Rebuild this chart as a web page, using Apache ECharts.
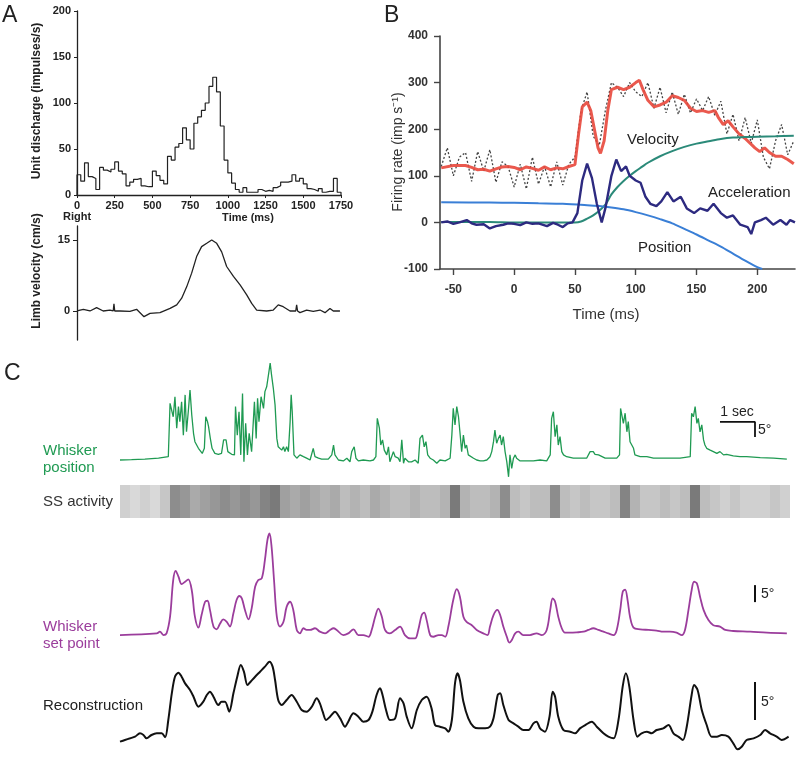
<!DOCTYPE html>
<html><head><meta charset="utf-8">
<script src="https://cdn.jsdelivr.net/npm/echarts@6/dist/echarts.min.js"></script>
<style>html,body{margin:0;padding:0;background:#fff}#c{width:800px;height:758px}</style>
</head><body><div id="c"></div>
<script>
// ---------- Panel A (top): unit discharge histogram, 25 ms bins ----------
const histStart = [0,25,50,75,100,125,150,175,200,225,250,275,300,325,350,375,400,425,450,475,500,525,550,575,600,625,650,675,700,725,750,775,800,825,850,875,900,925,950,975,1000,1025,1050,1075,1100,1125,1150,1175,1200,1225,1250,1275,1300,1325,1350,1375,1400,1425,1450,1475,1500,1525,1550,1575,1600,1625,1650,1675,1700,1725];
const histVals = [22,15,35,20,18,6,30,27,25,28, 36,26,23,10,14,17,18,10,9,9, 26,21,16,12,42,38,52,56,73,60, 50,78,85,92,100,118,128,112,75,38, 24,13,6,3,8,3,3,3,6,4, 5,4,8,10,14,14,15,22,15,18, 12,7,6,4,7,3,4,4,18,3];
const aXTicks = [0,250,500,750,1000,1250,1500,1750];
// ---------- Panel A (bottom): limb velocity ----------
const limbT = [0,42,86,130,174,218,240,245,250,285,351,395,444,484,550,617,661,694,727,760,793,826,860,893,926,959,992,1037,1081,1125,1158,1191,1257,1301,1334,1367,1412,1450,1456,1462,1478,1522,1566,1611,1644,1677,1699,1743];
const limbV = [0,0.35,0,0.7,0,0.2,0,1.5,0,0,-0.1,0.35,-1.2,-0.5,-0.35,0.55,1.3,2.7,5.1,8,11.5,13.6,14.3,15,14.3,12.5,9.4,7.3,5.5,3.4,1.6,0.2,0,0.2,1.3,0.9,0,0,1.3,0,-0.35,0.2,-0.1,0.2,-0.35,0.55,0,0];
const limbTail = [[1782,0],[1806,0]];
const limbTicks = [0,15];
// ---------- Panel B ----------
const bRedT = [-60,-50,-40,-35,-30,-25,-20,-15,-10,-5,0,5,10,15,20,25,30,35,40,45,50,53,56,60,63,66,69,71,74,77,80,85,90,95,100,103,106,110,115,120,125,130,135,140,145,150,155,160,165,168,172,176,180,185,190,194,198,202,206,210,215,220,225,230];
const bRed = [117,122,122,118,113,114,110,115,119,120,118,113,119,116,112,119,113,117,115,120,124,190,248,258,240,200,160,148,175,240,285,290,285,290,300,305,285,262,248,252,258,272,268,262,245,238,240,236,240,225,210,218,205,190,180,170,160,152,160,150,142,142,135,126];
const bRawT = [-60,-55,-50,-45,-40,-35,-30,-25,-20,-15,-10,-5,0,5,10,15,20,25,30,35,40,45,50,55,60,65,70,75,80,85,90,95,100,105,110,115,120,125,130,135,140,145,150,155,160,165,170,175,180,185,190,195,200,205,210,215,220,225,230];
const bRaw = [120,160,100,140,150,88,152,110,156,86,130,120,76,125,72,140,82,120,76,130,80,125,140,240,280,185,165,240,300,290,270,300,280,270,300,245,290,235,280,232,275,235,265,240,270,230,260,190,232,175,225,170,220,140,115,175,210,145,175];
const bVelT = [-60,-40,-20,0,20,40,50,55,60,65,70,75,80,85,90,95,100,105,110,120,130,140,150,160,170,180,190,200,215,230];
const bVel = [1,1,1,0,0,0,0,2,8,15,25,38,60,76,89,100,110,119,128,142,153,162,169,174,179,182,183,184,185,186];
const bPosT = [-60,-20,0,20,40,60,70,80,90,100,110,120,130,140,150,160,170,180,190,200,204];
const bPos = [43,42.5,42,41,40,37,35,32,28,22,15,7,-2,-14,-26,-39,-52,-67,-82,-96,-100];
const bAccT = [-60,-55,-50,-45,-39,-35,-31,-25,-20,-15,-9,-5,0,5,10,15,20,27,32,36,40,44,48,52,56,60,64,68,72,75,80,84,88,92,95,100,104,108,112,117,121,126,131,137,142,148,153,159,164,170,175,180,186,192,195,198,203,207,213,219,224,227,231];
const bAcc = [0,2,-3,0,5,-2,-5,-4,-13,-8,-5,-2,-3,-6,0,-3,-2,-8,-1,-5,-10,-2,0,20,90,126,95,40,0,30,100,135,110,120,100,90,85,55,40,35,45,65,45,55,30,20,30,25,40,20,10,15,-5,-10,-25,0,5,10,-5,5,-5,5,0];
const bXTicks = [-50,0,50,100,150,200];
// ---------- Panel C (time in s, value in degrees) ----------
const whiskerPos = [[0,-1.0],[0.33,-0.9],[0.71,-0.7],[1.10,-0.4],[1.38,0.1],[1.43,17.9],[1.48,17.9],[1.52,13.4],[1.57,20.1],[1.62,9.6],[1.67,16.8],[1.71,11.8],[1.76,18.4],[1.81,7.3],[1.86,20.7],[1.90,8.4],[1.95,15.1],[2.00,22.3],[2.05,14.0],[2.10,7.9],[2.14,5.1],[2.19,4.0],[2.24,2.9],[2.29,2.3],[2.35,1.2],[2.41,2.9],[2.45,13.4],[2.50,11.8],[2.53,10.1],[2.58,6.2],[2.63,2.9],[2.71,1.2],[2.81,0.9],[2.90,1.2],[2.96,5.7],[3.03,5.7],[3.08,1.8],[3.19,0.9],[3.27,0.7],[3.30,16.8],[3.35,7.3],[3.40,15.1],[3.45,0.7],[3.50,21.2],[3.54,-1.6],[3.59,11.2],[3.64,0.7],[3.69,7.9],[3.76,1.8],[3.84,18.4],[3.89,6.2],[3.93,19.6],[3.97,11.8],[4.03,20.1],[4.10,16.2],[4.14,21.8],[4.19,23.4],[4.24,27.3],[4.29,31.3],[4.33,27.3],[4.38,22.9],[4.43,17.3],[4.48,6.2],[4.52,3.4],[4.57,2.9],[4.62,2.3],[4.67,3.4],[4.71,1.8],[4.76,3.4],[4.81,1.8],[4.86,11.8],[4.89,20.7],[4.92,15.1],[4.97,0.7],[5.05,-0.4],[5.14,0.7],[5.24,0.1],[5.33,-0.4],[5.43,-1.0],[5.52,2.9],[5.57,0.1],[5.67,-0.4],[5.76,-0.7],[5.95,-0.7],[6.05,0.7],[6.10,4.0],[6.14,0.7],[6.24,-1.0],[6.38,-1.3],
[6.48,-0.4],[6.57,-1.6],[6.62,1.8],[6.69,3.4],[6.74,-0.4],[6.81,-1.3],[6.95,-1.0],[7.14,-1.3],[7.24,-1.0],[7.31,0.1],[7.35,12.9],[7.41,9.6],[7.45,4.0],[7.50,5.7],[7.55,2.3],[7.62,0.7],[7.67,3.4],[7.71,-1.6],[7.81,1.8],[7.86,0.1],[7.95,-0.4],[8.00,-1.6],[8.05,5.7],[8.10,-2.1],[8.14,-0.4],[8.24,-1.6],[8.33,-1.6],[8.43,-1.0],[8.52,-2.1],[8.57,6.2],[8.64,7.3],[8.69,3.4],[8.74,5.1],[8.79,0.7],[8.86,-0.4],[8.95,-1.0],[9.05,-2.1],[9.14,-1.0],[9.29,-1.3],[9.43,-0.4],[9.48,7.3],[9.52,16.2],[9.57,10.7],[9.62,16.8],[9.67,13.4],[9.71,8.4],[9.76,1.8],[9.81,7.3],[9.86,2.9],[9.90,4.0],[9.95,0.7],[10.00,1.2],[10.10,-0.4],[10.19,-1.0],[10.29,-1.3],[10.38,-1.3],[10.48,-1.0],[10.57,0.1],[10.62,1.8],[10.67,5.1],[10.71,9.0],[10.76,4.6],[10.81,6.2],[10.86,7.3],[10.90,4.0],[10.95,6.8],[11.00,1.8],[11.05,-1.6],[11.10,-6.6],[11.14,0.7],[11.19,-3.8],[11.24,-0.4],[11.29,0.7],[11.33,-0.4],[11.43,-1.3],[11.62,-1.3],[11.81,-1.3],[12.00,-1.0],[12.19,-1.3],[12.29,0.7],[12.33,12.9],[12.38,15.1],[12.43,6.8],[12.48,10.7],[12.52,4.0],[12.57,6.8],[12.62,1.8],[12.67,0.7],[12.76,0.1],
[12.95,-0.4],[13.14,-0.4],[13.33,-0.4],[13.43,1.8],[13.48,1.2],[13.52,1.8],[13.57,0.9],[13.62,1.2],[13.67,0.7],[13.71,0.1],[13.86,-0.4],[14.00,-0.4],[14.19,-0.4],[14.27,0.7],[14.30,16.2],[14.34,16.2],[14.38,11.2],[14.43,14.6],[14.48,8.4],[14.52,11.8],[14.57,5.1],[14.62,4.0],[14.67,2.9],[14.71,0.7],[14.76,1.2],[14.86,0.1],[15.05,0.1],[15.24,-0.4],[15.62,-0.4],[16.00,-0.4],[16.29,0.1],[16.33,14.6],[16.38,13.4],[16.43,16.8],[16.48,11.2],[16.52,12.9],[16.57,8.4],[16.62,10.7],[16.67,5.7],[16.71,4.0],[16.76,2.9],[16.86,2.3],[16.95,1.8],[17.05,1.2],[17.14,1.8],[17.24,0.7],[17.33,0.9],[17.52,0.4],[17.71,0.1],[17.90,0.1],[18.29,-0.2],[18.67,-0.4],[19.05,-0.7]];
// SS activity: darkness of the raster in 67 consecutive bins (0 = white, 1 = black)
const ssDarkness = [0.25,0.2,0.25,0.2,0.3,0.6,0.55,0.45,0.5,0.55, 0.6,0.55,0.6,0.55,0.65,0.7,0.5,0.45,0.5,0.45, 0.4,0.45,0.35,0.4,0.35,0.45,0.4,0.35,0.35,0.4, 0.35,0.35,0.4,0.7,0.4,0.35,0.35,0.4,0.6,0.35, 0.3,0.35,0.35,0.6,0.35,0.3,0.35,0.3,0.3,0.35, 0.65,0.4,0.3,0.3,0.35,0.3,0.35,0.7,0.35,0.3, 0.25,0.3,0.25,0.25,0.25,0.3,0.25];
const setPoint = [[0,0],[1.05,0.5],[1.14,1.0],[1.24,0],[1.33,0.5],[1.43,5.4],[1.52,16.2],[1.59,18.9],[1.67,17.2],[1.76,15.0],[1.86,15.7],[1.95,16.4],[2.05,13.2],[2.14,5.4],[2.24,2.2],[2.33,5.9],[2.43,9.8],[2.50,10.1],[2.57,7.4],[2.67,2.5],[2.76,1.7],[2.86,3.4],[2.95,4.6],[3.05,3.9],[3.14,2.5],[3.24,6.4],[3.33,10.3],[3.41,11.5],[3.48,10.8],[3.57,7.4],[3.67,4.6],[3.76,7.8],[3.86,14.2],[3.95,16.2],[4.05,16.7],[4.14,22.1],[4.21,27.9],[4.27,29.9],[4.33,26.0],[4.40,16.2],[4.48,5.4],[4.57,2.5],[4.67,3.9],[4.76,8.3],[4.86,9.8],[4.95,7.4],[5.05,1.5],[5.14,0.5],[5.24,2.0],[5.33,1.5],[5.43,1.5],[5.57,2.0],[5.71,1.0],[5.86,0.5],[6.00,1.5],[6.10,2.0],[6.19,1.5],[6.38,0],[6.52,0.5],[6.67,1.7],[6.81,0],[6.95,0],[7.10,-0.5],[7.19,1.5],[7.29,5.4],[7.38,7.8],[7.48,5.4],[7.57,1.5],[7.71,0.5],[7.86,1.5],
[8.00,2.5],[8.14,0],[8.29,-1.0],[8.43,-1.0],[8.52,1.5],[8.62,5.9],[8.69,6.6],[8.76,4.4],[8.86,0],[8.95,-0.5],[9.10,0],[9.19,0],[9.29,-0.5],[9.38,2.5],[9.52,10.3],[9.62,13.5],[9.71,11.3],[9.81,5.4],[9.90,3.9],[10.05,2.9],[10.19,1.5],[10.38,0.5],[10.50,0],[10.57,2.5],[10.67,5.9],[10.78,7.4],[10.86,5.9],[10.95,2.5],[11.05,-0.5],[11.12,-2.2],[11.19,-1.5],[11.29,0.5],[11.38,1.0],[11.52,0],[11.71,0],[11.90,0.5],[12.05,0],[12.19,1.5],[12.29,7.4],[12.36,10.8],[12.43,9.8],[12.52,5.4],[12.62,2.0],[12.71,0.7],[12.86,0.7],[13.05,0.8],[13.24,1.0],[13.38,1.5],[13.52,2.0],[13.67,1.5],[13.81,1.0],[13.95,0.5],[14.10,0],[14.19,1.5],[14.29,7.4],[14.36,12.7],[14.43,13.4],[14.50,10.3],[14.57,5.4],[14.67,2.2],[14.86,1.7],[15.10,1.5],[15.33,1.3],[15.52,1.0],[15.71,1.0],[15.90,0.7],[16.05,0],[16.14,1.5],[16.24,7.4],[16.33,13.2],[16.40,15.7],[16.48,15.2],[16.57,11.3],[16.67,7.4],[16.81,4.4],[16.95,2.9],[17.14,2.5],[17.29,1.5],[17.52,1.2],[18.00,1.0],[18.48,0.7],[19.05,0.5]];
const reconstruction = [[0.00,0.44],[0.14,0.66],[0.29,0.88],[0.43,1.10],[0.57,1.54],[0.67,1.32],[0.76,0.88],[0.90,1.32],[1.05,1.54],[1.19,1.54],[1.29,1.01],[1.38,3.29],[1.48,6.80],[1.57,8.99],[1.67,9.52],[1.76,8.99],[1.86,8.11],[2.00,7.24],[2.10,6.36],[2.24,5.04],[2.38,5.70],[2.48,6.58],[2.57,7.02],[2.67,6.36],[2.81,5.26],[2.90,5.70],[3.00,5.70],[3.12,4.39],[3.24,6.80],[3.35,8.99],[3.45,10.53],[3.54,9.65],[3.64,7.89],[3.73,8.33],[3.86,8.99],[4.00,9.65],[4.14,10.31],[4.27,10.96],[4.36,10.31],[4.43,8.55],[4.52,5.92],[4.62,5.26],[4.76,5.92],[4.90,6.58],[5.05,5.70],[5.19,4.61],[5.33,4.39],[5.48,5.04],[5.62,6.14],[5.71,5.48],[5.79,4.39],[5.89,3.29],[6.00,3.73],[6.14,4.39],[6.29,3.51],[6.43,2.41],[6.52,3.07],[6.67,4.17],[6.81,3.73],[6.95,3.07],[7.10,3.29],[7.21,4.39],[7.33,6.58],[7.43,7.46],[7.50,6.58],[7.60,4.61],[7.71,3.29],[7.86,3.51],
[8.00,6.14],[8.10,5.48],[8.19,3.73],[8.33,2.19],[8.48,4.61],[8.62,5.92],[8.76,6.36],[8.90,4.82],[9.00,2.63],[9.14,2.41],[9.29,2.19],[9.38,1.75],[9.48,3.29],[9.57,8.11],[9.64,9.43],[9.71,8.55],[9.81,5.70],[9.95,3.51],[10.10,2.41],[10.24,2.19],[10.43,2.19],[10.57,2.41],[10.67,3.51],[10.79,6.58],[10.86,6.80],[10.95,5.26],[11.10,3.29],[11.24,2.85],[11.38,2.41],[11.52,1.97],[11.67,1.97],[11.81,2.85],[11.90,3.07],[12.00,2.19],[12.14,1.75],[12.27,3.73],[12.36,7.02],[12.43,6.36],[12.52,3.73],[12.67,1.97],[12.86,1.75],[13.00,1.54],[13.14,2.19],[13.29,2.63],[13.48,3.07],[13.62,2.41],[13.81,1.54],[13.95,1.10],[14.10,0.88],[14.24,3.29],[14.36,7.68],[14.45,9.43],[14.55,7.68],[14.67,3.29],[14.78,1.10],[14.90,1.54],[15.05,1.75],[15.19,1.54],[15.33,1.97],[15.52,2.19],[15.67,2.63],[15.81,1.54],[15.95,1.10],[16.08,0.66],[16.19,2.41],[16.33,6.58],[16.40,7.89],[16.50,7.24],[16.62,4.61],[16.76,2.63],[16.90,1.10],[17.05,1.10],[17.19,1.32],[17.38,1.10],[17.52,0.22],[17.64,-0.57],[17.76,-0.22],[17.90,0.66],[18.10,0.88],[18.29,1.32],[18.43,1.97],[18.57,1.54],[18.76,1.10],[18.90,0.66],[19.10,1.10]];
// scale bars (1 s horizontal, 5 degrees vertical), in data units
const posScaleBar = [[17.14,11.7],[18.14,11.7],[18.14,6.7]];
const setScaleBar = [[18.14,9.7],[18.14,14.7]];
const recScaleBar = [[18.14,3.29],[18.14,8.29]];

// ---------- build ----------
const FONT = "'Liberation Sans', Arial, Helvetica, sans-serif";
const pairs = (xs, ys) => xs.map((x, i) => [x, ys[i]]);
const histData = [[0,0]].concat(pairs(histStart, histVals), [[1750, histVals[histVals.length-1]], [1750, 0]]);
const grayOf = d => { const g = Math.max(0, Math.min(255, Math.round(255 - d * 190))); return 'rgb(' + g + ',' + g + ',' + g + ')'; };
const ssData = ssDarkness.map(d => ({ value: 1, itemStyle: { color: grayOf(d) } }));

const aAxisLine = { onZero: false, lineStyle: { color: '#222', width: 1.3 } };
const aLabel = { fontSize: 11, fontWeight: 'bold', color: '#222', fontFamily: FONT, formatter: v => String(v) };
const bAxisLine = { onZero: false, lineStyle: { color: '#444', width: 1.6 } };
const bLabel = { fontSize: 12, fontWeight: 'bold', color: '#333', fontFamily: FONT, formatter: v => String(v) };
const hidden = (gi, min, max) => ({ gridIndex: gi, type: 'value', min: min, max: max, show: false, splitLine: { show: false } });
const CMAX = 19.14;

const txt = (text, x, y, o) => Object.assign({ type: 'text', x: x, y: y, silent: true,
  style: Object.assign({ text: text, fontFamily: FONT, fontSize: 15, fill: '#222', align: 'left', verticalAlign: 'middle' }, (o && o.style) || {}) },
  o && o.rotation !== undefined ? { rotation: o.rotation } : {});

const option = {
  backgroundColor: '#fff',
  animation: false,
  grid: [
    { left: 77, top: 11, width: 264, height: 184, outerBoundsMode: 'none' },
    { left: 77, top: 226, width: 264, height: 114, outerBoundsMode: 'none' },
    { left: 440, top: 36, width: 355, height: 233, outerBoundsMode: 'none' },
    { left: 120, top: 355, width: 670, height: 126, outerBoundsMode: 'none' },
    { left: 120, top: 485, width: 670, height: 33, outerBoundsMode: 'none' },
    { left: 120, top: 525, width: 670, height: 125, outerBoundsMode: 'none' },
    { left: 120, top: 652, width: 670, height: 100, outerBoundsMode: 'none' }
  ],
  xAxis: [
    { gridIndex: 0, type: 'value', min: 0, max: 1750, interval: 250, axisLine: aAxisLine,
      axisTick: { length: 3, lineStyle: { color: '#222' } }, axisLabel: Object.assign({ margin: 5 }, aLabel), splitLine: { show: false } },
    hidden(1, 0, 1750),
    { gridIndex: 2, type: 'value', min: -61, max: 231, axisLine: bAxisLine,
      axisTick: { length: 6, customValues: bXTicks, lineStyle: { color: '#444', width: 1.4 } },
      axisLabel: Object.assign({ margin: 15, customValues: bXTicks }, bLabel), splitLine: { show: false } },
    hidden(3, 0, CMAX),
    { gridIndex: 4, type: 'category', data: ssDarkness.map((d, i) => i), show: false },
    hidden(5, 0, CMAX),
    hidden(6, 0, CMAX)
  ],
  yAxis: [
    { gridIndex: 0, type: 'value', min: 0, max: 200, interval: 50, axisLine: Object.assign({ show: true }, aAxisLine),
      axisTick: { show: true, length: 3, lineStyle: { color: '#222' } }, axisLabel: Object.assign({ margin: 6 }, aLabel), splitLine: { show: false } },
    { gridIndex: 1, type: 'value', min: -6.13, max: 17.96, axisLine: Object.assign({ show: true }, aAxisLine),
      axisTick: { show: true, length: 4, customValues: limbTicks, lineStyle: { color: '#222' } },
      axisLabel: Object.assign({ margin: 7, customValues: limbTicks }, aLabel), splitLine: { show: false } },
    { gridIndex: 2, type: 'value', min: -100, max: 400, interval: 100, axisLine: Object.assign({ show: true }, bAxisLine),
      axisTick: { show: true, length: 6, lineStyle: { color: '#444', width: 1.4 } },
      axisLabel: Object.assign({ margin: 12 }, bLabel), splitLine: { show: false } },
    hidden(3, -8, 34),
    hidden(4, 0, 1),
    hidden(5, -4.4, 32.4),
    hidden(6, -0.92, 12.24)
  ],
  series: [
    { type: 'line', xAxisIndex: 0, yAxisIndex: 0, step: 'end', data: histData, symbol: 'none',
      lineStyle: { color: '#222', width: 1.2 } },
    { type: 'line', xAxisIndex: 1, yAxisIndex: 1, data: pairs(limbT, limbV), symbol: 'none',
      lineStyle: { color: '#222', width: 1.3 } },
    { type: 'line', xAxisIndex: 1, yAxisIndex: 1, data: limbTail, symbol: 'none', clip: false,
      lineStyle: { color: '#222', width: 1.2 } },
    { type: 'line', xAxisIndex: 2, yAxisIndex: 2, data: pairs(bRawT, bRaw), symbol: 'none',
      lineStyle: { color: '#444', width: 1.3, type: [2, 2] } },
    { type: 'line', xAxisIndex: 2, yAxisIndex: 2, data: pairs(bRedT, bRed), symbol: 'none',
      lineStyle: { color: '#e8473b', width: 3, opacity: 0.9 } },
    { type: 'line', xAxisIndex: 2, yAxisIndex: 2, data: pairs(bVelT, bVel), symbol: 'none', smooth: 0.3,
      lineStyle: { color: '#2b8a79', width: 2 } },
    { type: 'line', xAxisIndex: 2, yAxisIndex: 2, data: pairs(bPosT, bPos), symbol: 'none', smooth: 0.3,
      lineStyle: { color: '#3a7fd6', width: 2 } },
    { type: 'line', xAxisIndex: 2, yAxisIndex: 2, data: pairs(bAccT, bAcc), symbol: 'none',
      lineStyle: { color: '#2d2a80', width: 2.4 } },
    { type: 'line', xAxisIndex: 3, yAxisIndex: 3, data: whiskerPos, symbol: 'none',
      lineStyle: { color: '#1f9a52', width: 1.3 } },
    { type: 'line', xAxisIndex: 3, yAxisIndex: 3, data: posScaleBar, symbol: 'none',
      lineStyle: { color: '#111', width: 1.8 } },
    { type: 'bar', xAxisIndex: 4, yAxisIndex: 4, data: ssData, barWidth: '100%', barCategoryGap: '0%' },
    { type: 'line', xAxisIndex: 5, yAxisIndex: 5, data: setPoint, symbol: 'none', smooth: 0.35,
      lineStyle: { color: '#9b3d9c', width: 1.8 } },
    { type: 'line', xAxisIndex: 5, yAxisIndex: 5, data: setScaleBar, symbol: 'none',
      lineStyle: { color: '#111', width: 2 } },
    { type: 'line', xAxisIndex: 6, yAxisIndex: 6, data: reconstruction, symbol: 'none', smooth: 0.3,
      lineStyle: { color: '#111', width: 2 } },
    { type: 'line', xAxisIndex: 6, yAxisIndex: 6, data: recScaleBar, symbol: 'none',
      lineStyle: { color: '#111', width: 2 } }
  ],
  graphic: [
    txt('A', 2, 16, { style: { fontSize: 23 } }),
    txt('B', 384, 16, { style: { fontSize: 23 } }),
    txt('C', 4, 374, { style: { fontSize: 23 } }),
    txt('Unit discharge (impulses/s)', 37, 101, { rotation: Math.PI / 2, style: { fontSize: 12, fontWeight: 'bold', align: 'center' } }),
    txt('Limb velocity (cm/s)', 37, 271, { rotation: Math.PI / 2, style: { fontSize: 12, fontWeight: 'bold', align: 'center' } }),
    txt('Right', 77, 217, { style: { fontSize: 11, fontWeight: 'bold', align: 'center' } }),
    txt('Time (ms)', 248, 218, { style: { fontSize: 11, fontWeight: 'bold', align: 'center' } }),
    txt('Firing rate (imp s\u207B\u00B9)', 398, 152, { rotation: Math.PI / 2, style: { fontSize: 14, align: 'center', fill: '#333' } }),
    txt('Time (ms)', 606, 315, { style: { fontSize: 15, align: 'center', fill: '#333' } }),
    txt('Velocity', 627, 140, { style: { fill: '#222' } }),
    txt('Acceleration', 708, 193, { style: { fill: '#222' } }),
    txt('Position', 638, 248, { style: { fill: '#222' } }),
    txt('1 sec', 737, 412, { style: { fontSize: 14, align: 'center' } }),
    txt('5\u00B0', 758, 430, { style: { fontSize: 14 } }),
    txt('5\u00B0', 761, 594, { style: { fontSize: 14 } }),
    txt('5\u00B0', 761, 702, { style: { fontSize: 14 } }),
    txt('Whisker', 43, 451, { style: { fill: '#1f9a52' } }),
    txt('position', 43, 468, { style: { fill: '#1f9a52' } }),
    txt('SS activity', 43, 502, { style: { fill: '#333' } }),
    txt('Whisker', 43, 627, { style: { fill: '#9b3d9c' } }),
    txt('set point', 43, 644, { style: { fill: '#9b3d9c' } }),
    txt('Reconstruction', 43, 706, { style: { fill: '#222' } })
  ]
};
const chart = echarts.init(document.getElementById('c'), null, { renderer: 'canvas' });
chart.setOption(option);
</script></body></html>
